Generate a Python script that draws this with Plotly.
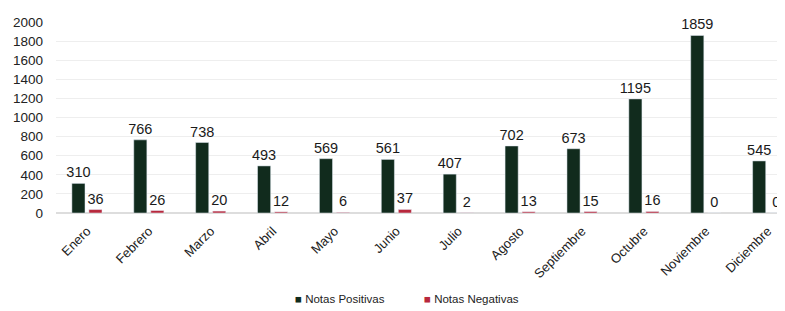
import plotly.graph_objects as go

meses = ["Enero", "Febrero", "Marzo", "Abril", "Mayo", "Junio", "Julio",
         "Agosto", "Septiembre", "Octubre", "Noviembre", "Diciembre"]
positivas = [310, 766, 738, 493, 569, 561, 407, 702, 673, 1195, 1859, 545]
negativas = [36, 26, 20, 12, 6, 37, 2, 13, 15, 16, 0, 0]
y_ticks = [0, 200, 400, 600, 800, 1000, 1200, 1400, 1600, 1800, 2000]
series = ["Notas Positivas", "Notas Negativas"]
colores = ["#112b1d", "#b8283c"]

font_family = "Liberation Sans, Arial, sans-serif"

fig = go.Figure()
for nombre, vals, col in zip(series, [positivas, negativas], colores):
    fig.add_trace(go.Bar(
        x=meses, y=vals, name=nombre,
        marker_color=col, text=vals, textposition="outside",
        constraintext="none", textangle=0,
        textfont=dict(size=14.5, color="#1a1a1a", family=font_family),
        cliponaxis=False, showlegend=False,
    ))

# legend drawn as text items
legend_x = [0.325, 0.502]
for nombre, col, lx in zip(series, colores, legend_x):
    fig.add_annotation(
        text=f"<span style='color:{col}'>■</span>&nbsp;{nombre}",
        xref="paper", yref="paper", x=lx, y=-0.45,
        xanchor="left", yanchor="middle", showarrow=False,
        font=dict(size=11.5, color="#222222", family=font_family),
    )

fig.update_layout(
    width=777, height=303,
    margin=dict(l=48, r=0, t=14, b=98, autoexpand=False),
    paper_bgcolor="white", plot_bgcolor="white",
    barmode="group", bargap=0.45, bargroupgap=0.23,
    font=dict(family=font_family, color="#222222"),
    showlegend=False,
    xaxis=dict(
        type="category", range=[-0.5, 11.28], tickangle=-45,
        tickfont=dict(size=13, color="#222222"), showgrid=False,
        showline=False, ticks="", automargin=False, ticklabelstandoff=7,
    ),
    yaxis=dict(
        range=[0, 2000], tickvals=y_ticks, ticktext=[str(v) for v in y_ticks],
        tickfont=dict(size=13.5, color="#222222"),
        showgrid=True, gridcolor="#eeeeee", gridwidth=1,
        zeroline=True, zerolinecolor="#dddddd", ticks="", ticklabelstandoff=12,
        automargin=False,
    ),
)

fig.write_html("out.html")
